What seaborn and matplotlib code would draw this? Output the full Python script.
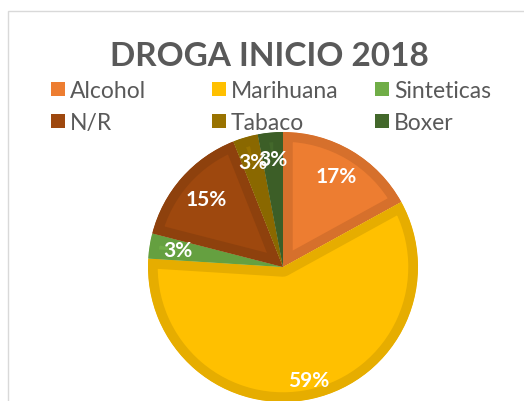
import matplotlib
matplotlib.use("Agg")
import matplotlib.pyplot as plt
import seaborn as sns
import numpy as np
from matplotlib.patches import Patch, Rectangle

sns.set_theme(style="white")
plt.rcParams['font.family'] = ['Lato', 'DejaVu Sans']

# Data
categories = ["Alcohol", "Marihuana", "Sinteticas", "N/R", "Tabaco", "Boxer"]
values = [17, 59, 3, 15, 3, 3]
title = "DROGA INICIO 2018"

# Style
face_colors = ["#ED7D31", "#FFC000", "#70AD47", "#9E480E", "#997300", "#43682B"]
edge_colors = ["#D6702C", "#E6AD00", "#65A040", "#8E410D", "#8A6800", "#3C5E27"]
label_dist = [0.78, 0.86, 0.79, 0.76, 0.81, 0.80]
text_gray = "#595959"

W, H = 524, 402
fig = plt.figure(figsize=(W / 100, H / 100), dpi=100)
fig.patch.set_facecolor("white")

# chart-area border (light gray)
fig.patches.append(Rectangle((8 / W, -0.1), 1.2, (H - 12) / H + 0.1,
                             transform=fig.transFigure, fill=False,
                             edgecolor="#D9D9D9", linewidth=1.0))

cx, cy, r = 283, 268, 135
ax = fig.add_axes([(cx - r) / W, (H - cy - r) / H, 2 * r / W, 2 * r / H])
wedges, _ = ax.pie(values, colors=face_colors, startangle=90, counterclock=False,
                   radius=1.0, wedgeprops=dict(linewidth=14, joinstyle="round"))
ax.set_xlim(-1, 1)
ax.set_ylim(-1, 1)
ax.set_aspect("equal")
for w, ec in zip(wedges, edge_colors):
    w.set_edgecolor(ec)
    w.set_clip_on(True)
    w.set_clip_box(None)
    w.set_clip_path(w.get_path(), w.get_transform())

total = sum(values)
ang = 90.0
for v, d in zip(values, label_dist):
    span = 360.0 * v / total
    mid = np.deg2rad(ang - span / 2)
    ax.text(d * np.cos(mid), d * np.sin(mid), f"{round(100 * v / total)}%",
            ha="center", va="center", color="white", fontsize=15,
            fontweight="bold")
    ang -= span
ax.set_axis_off()

fig.text(269 / W, (H - 57) / H, title, ha="center", va="center",
         fontsize=24, fontweight="bold", color=text_gray)

col_x = [51, 212, 375]
for i, x in enumerate(col_x):
    idx = [i, i + 3]
    handles = [Patch(facecolor=face_colors[j], edgecolor="none") for j in idx]
    leg = fig.legend(handles, [categories[j] for j in idx],
                     loc="upper left", bbox_to_anchor=(x / W, (H - 81) / H),
                     frameon=False, fontsize=16.5, handlelength=0.62,
                     handleheight=0.62, handletextpad=0.2, labelspacing=0.48,
                     borderpad=0, borderaxespad=0)
    for t in leg.get_texts():
        t.set_color(text_gray)

fig.savefig("out.png", dpi=100)
